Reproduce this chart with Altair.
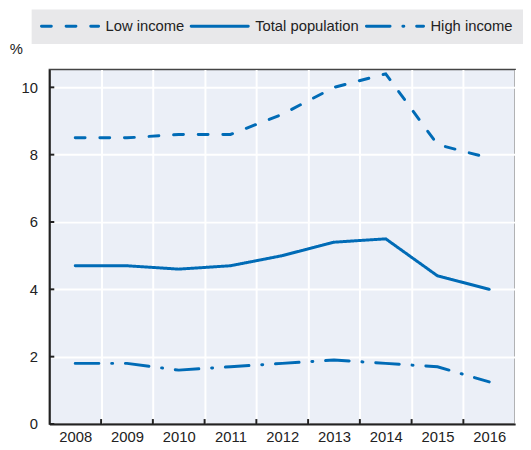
import altair as alt
import pandas as pd

years = ["2008", "2009", "2010", "2011", "2012", "2013", "2014", "2015", "2016"]
low_income = [8.5, 8.5, 8.6, 8.6, 9.2, 10.0, 10.4, 8.3, 7.9]
total_population = [4.7, 4.7, 4.6, 4.7, 5.0, 5.4, 5.5, 4.4, 4.0]
high_income = [1.8, 1.8, 1.6, 1.7, 1.8, 1.9, 1.8, 1.7, 1.25]
series_names = ["Low income", "Total population", "High income"]
y_ticks = [0, 2, 4, 6, 8, 10]

rows = []
for name, vals in zip(series_names, [low_income, total_population, high_income]):
    for yr, v in zip(years, vals):
        rows.append({"year": yr, "value": v, "series": name})
df = pd.DataFrame(rows)
tick_df = pd.DataFrame({"v": y_ticks})
xt_df = pd.DataFrame({"year": years[1:]})

# legend layout (pixel offsets relative to the plot area)
leg_start = [-8, 144, 322]
leg_df = pd.DataFrame({
    "series": series_names,
    "x0": leg_start,
    "x1": [s + 58 for s in leg_start],
    "tx": [s + 65 for s in leg_start],
})

FONT = "Liberation Sans"
BLUE = "#006BB6"
TXT = "#222222"
W, H = 473, 360
LEG_Y = -44

xscale = alt.Scale(domain=years, paddingInner=0, paddingOuter=0)
yscale = alt.Scale(domain=[0, 10.53], nice=False, zero=True)
dash_scale = alt.Scale(domain=series_names, range=[[10, 15], [1, 0], [24, 13, 1, 13]])

lines = alt.Chart(df).mark_line(strokeWidth=3, strokeCap="round", color=BLUE).encode(
    x=alt.X("year:O", scale=xscale, sort=years,
            axis=alt.Axis(title=None, labelAngle=0, ticks=False, grid=True, tickBand="extent",
                          gridColor="white", gridWidth=2, labelPadding=6,
                          domainColor="#222", domainWidth=2)),
    y=alt.Y("value:Q", scale=yscale,
            axis=alt.Axis(values=y_ticks, ticks=False, grid=True, gridColor="white", gridWidth=2,
                          labelPadding=12, domainColor="#222", domainWidth=2,
                          title="%", titleAngle=0, titleX=-34, titleY=-21,
                          titleAlign="center", titleBaseline="middle",
                          titleFont=FONT, titleFontSize=15, titleFontWeight="normal",
                          titleColor=TXT)),
    strokeDash=alt.StrokeDash("series:N", scale=dash_scale, legend=None),
)

yticks = alt.Chart(tick_df).mark_rule(color="#222", strokeWidth=2).encode(
    x=alt.value(0), x2=alt.value(5), y=alt.Y("v:Q", scale=yscale)
)
xticks = alt.Chart(xt_df).mark_rule(color="#222", strokeWidth=2).encode(
    x=alt.X("year:O", scale=xscale, bandPosition=0), y=alt.value(H - 5), y2=alt.value(H)
)

leg_bg = alt.Chart(pd.DataFrame({"a": [0]})).mark_rect(color="#E8E8EA").encode(
    x=alt.value(-18), x2=alt.value(490), y=alt.value(-61), y2=alt.value(-26)
)
leg_sym = alt.Chart(leg_df).mark_rule(strokeWidth=3, strokeCap="round", color=BLUE).encode(
    x=alt.X("x0:Q", scale=None), x2="x1:Q", y=alt.value(LEG_Y),
    strokeDash=alt.StrokeDash("series:N", scale=dash_scale, legend=None),
)
leg_txt = alt.Chart(leg_df).mark_text(font=FONT, fontSize=15, color=TXT, align="left",
                                      baseline="middle").encode(
    x=alt.X("tx:Q", scale=None), y=alt.value(LEG_Y), text="series:N"
)

chart = alt.layer(lines, yticks, xticks, leg_bg, leg_sym, leg_txt).properties(
    width=W, height=H,
    autosize=alt.AutoSizeParams(type="none"),
    padding={"left": 42, "top": 59, "right": 8, "bottom": 25},
).configure_view(
    fill="#EBEFF7", stroke="#444", strokeWidth=1.5
).configure_axis(
    labelFont=FONT, labelFontSize=15, labelColor=TXT
)

chart.save("out.html", embed_options={"renderer": "svg", "actions": False})
